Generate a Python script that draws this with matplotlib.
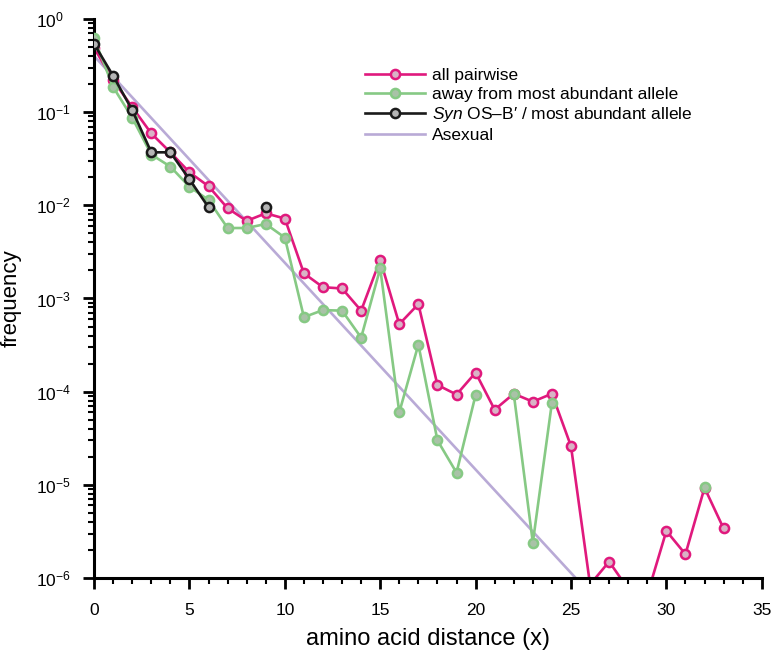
import matplotlib
matplotlib.use('Agg')
import matplotlib.pyplot as plt
import numpy as np
from matplotlib import ticker

plt.rcParams['font.family'] = ['Liberation Sans', 'DejaVu Sans']
plt.rcParams['mathtext.fontset'] = 'custom'
plt.rcParams['mathtext.rm'] = 'Liberation Sans'
plt.rcParams['mathtext.it'] = 'Liberation Sans:italic'
plt.rcParams['mathtext.default'] = 'regular'

# amino acid distance
dist = np.arange(0, 34)

# all pairwise
all_pairwise = [0.49, 0.22, 0.113, 0.059, 0.037, 0.0226, 0.016, 0.0093, 0.0068, 0.0082,
                0.0072, 0.00186, 0.00132, 0.00128, 0.00074, 0.0026, 0.00053, 0.00087, 0.000118, 9.3e-5,
                1.6e-4, 6.4e-5, 9.5e-5, 7.8e-5, 9.5e-5, 2.6e-5, 8.5e-7, 1.5e-6, 7.6e-7, 6.6e-7,
                3.2e-6, 1.8e-6, 9.3e-6, 3.4e-6]

# away from most abundant allele (nan = none observed)
away = [0.62, 0.186, 0.087, 0.035, 0.026, 0.0158, 0.0114, 0.0057, 0.0057, 0.0063,
        0.0045, 0.00063, 0.00075, 0.00074, 0.00038, 0.0021, 6.0e-5, 3.2e-4, 3.0e-5, 1.35e-5,
        9.2e-5, np.nan, 9.5e-5, 2.4e-6, 7.6e-5, np.nan, np.nan, np.nan, np.nan, np.nan,
        np.nan, np.nan, 9.5e-6, np.nan]

# Syn OS-B' / most abundant allele
syn_b = [0.54, 0.245, 0.105, 0.037, 0.037, 0.019, 0.0095, np.nan, np.nan, 0.0095]

# asexual expectation (straight line in log space)
asex_x = [0, 26]
asex_y = [0.4, 6.8e-7]

xticks = [0, 5, 10, 15, 20, 25, 30, 35]
yticks = [1e-6, 1e-5, 1e-4, 1e-3, 1e-2, 1e-1, 1]

magenta = '#E0197D'
green = '#86C984'
lavender = '#B9AAD6'

fig = plt.figure(figsize=(7.71, 6.52), dpi=100)
ax = fig.add_axes([0.122, 0.1135, 0.866, 0.8575])

ax.plot(asex_x, asex_y, color=lavender, lw=1.9, zorder=1, label='Asexual')
ax.plot(dist, all_pairwise, color=magenta, lw=1.9, marker='o', ms=6.6, mew=1.8,
        mec=magenta, mfc='#D9B3C6', zorder=2, label='all pairwise')
ax.plot(dist, away, color=green, lw=1.9, marker='o', ms=6.6, mew=1.8,
        mec=green, mfc='#A9C2A7', zorder=3, label='away from most abundant allele')
ax.plot(np.arange(len(syn_b)), syn_b, color='#1a1a1a', lw=1.9, marker='o', ms=6.6, mew=1.8,
        mec='#1a1a1a', mfc='#B5B5B5', zorder=4,
        label="$\\mathit{Syn}$ OS\u2013B\u2032 / most abundant allele")

ax.set_yscale('log')
ax.set_ylim(1e-6, 1)
ax.set_xlim(0, 35)
ax.set_xticks(xticks)
ax.xaxis.set_minor_locator(ticker.MultipleLocator(1))
ax.set_yticks(yticks)
ax.yaxis.set_major_formatter(ticker.LogFormatterSciNotation())
ax.yaxis.set_minor_locator(ticker.LogLocator(base=10, subs=np.arange(2, 10), numticks=20))
ax.yaxis.set_minor_formatter(ticker.NullFormatter())

for s in ['top', 'right']:
    ax.spines[s].set_visible(False)
for s in ['left', 'bottom']:
    ax.spines[s].set_linewidth(2.2)
ax.tick_params(which='major', direction='out', length=8, width=2, labelsize=12.5)
ax.tick_params(axis='x', which='major', pad=10)
ax.tick_params(axis='y', which='major', pad=34)
ax.tick_params(which='minor', direction='out', length=4.5, width=1.5)
for t in ax.yaxis.get_major_ticks():
    t.label1.set_horizontalalignment('left')

ax.set_xlabel('amino acid distance (x)', fontsize=17, labelpad=7.5)
ax.set_ylabel('frequency', fontsize=16)
ax.yaxis.set_label_coords(-0.109, 0.5)

h, l = ax.get_legend_handles_labels()
order = [1, 2, 3, 0]
ax.legend([h[i] for i in order], [l[i] for i in order], loc='upper right',
          bbox_to_anchor=(0.92, 0.94), frameon=False, fontsize=12.5,
          handlelength=3.5, handletextpad=0.4, labelspacing=0.2)

fig.savefig('out.png', dpi=100)
